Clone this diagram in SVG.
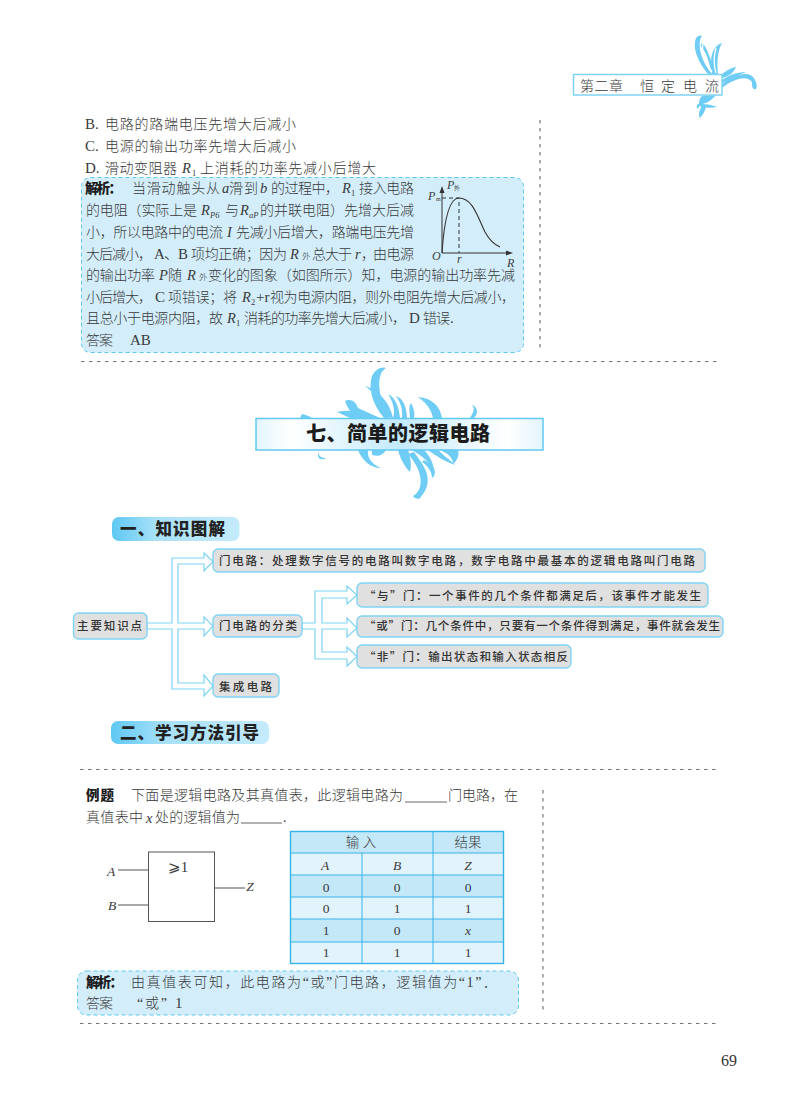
<svg xmlns="http://www.w3.org/2000/svg" width="800" height="1120" viewBox="0 0 800 1120">
<style>
text{font-family:"Liberation Serif","Noto Sans CJK SC",serif;fill:#3a3a3a}
.b{font-size:14px;font-weight:300}
.l{font-size:15px}
.i{font-size:14.5px;font-style:italic}
.s{font-size:8.5px}
.si{font-size:8.5px;font-style:italic}
.h{font-family:"Noto Sans CJK SC",sans-serif;font-size:13.5px;font-weight:900;fill:#1c1c1c}
.k{font-family:"Noto Sans CJK SC",sans-serif;font-size:11.5px;font-weight:500;fill:#333}
.n{fill:#e0e0e0;stroke:#7fd3f3;stroke-width:1.4}
.sec{font-family:"Noto Sans CJK SC",sans-serif;font-size:16.5px;font-weight:900;fill:#222}
.a{fill:#d3eefa;stroke:#5cc8f2;stroke-width:1;stroke-dasharray:4 3}
.d{fill:none;stroke:#777;stroke-width:1.2;stroke-dasharray:3.5 4.5}
.c{fill:#fff;stroke:#7fd3f3;stroke-width:1.2;stroke-linejoin:miter}
.o{fill:#6fcdf5}
.w{fill:none;stroke:#fff;stroke-width:1.3}
.t{font-size:13.5px;font-weight:300;text-anchor:middle}
.ti{font-size:13.5px;text-anchor:middle;font-style:italic}
.g{fill:none;stroke:#555;stroke-width:1}
.tl{stroke:#36b4ea;stroke-width:1;fill:none}
</style>
<defs>
<linearGradient id="tg" x1="0" x2="1" y1="0" y2="0"><stop offset="0" stop-color="#e3f5fd"/><stop offset=".12" stop-color="#fff"/><stop offset=".5" stop-color="#c3eafb"/><stop offset=".88" stop-color="#fff"/><stop offset="1" stop-color="#e3f5fd"/></linearGradient>
<linearGradient id="sg" x1="0" x2="1" y1="0" y2="0"><stop offset="0" stop-color="#5fc8f3"/><stop offset=".35" stop-color="#a9e1f8"/><stop offset="1" stop-color="#c4ebfb"/></linearGradient>
</defs>

<g id="running-head">
<g id="head-ornament">
<path class="o" d="M708 74C698 62 692 48 696 38C698 35 701 35 702 36C697 42 700 60 712 74Z"/>
<path class="o" d="M705 52C700 46 700 44 702 43C706 46 709 54 716 74L712 74C710 66 708 58 705 52Z"/>
<path class="o" d="M714 74C708 60 712 46 722 43C717 52 717 64 718 74Z"/>
<path class="o" d="M722 74C728 70 730 68 736 67C734 72 730 76 722 78Z"/>
<path class="o" d="M722 84C732 76 745 71 752 76C756 80 758 86 756 89C752 90 752 86 752 82C746 74 732 80 722 88Z"/>
<path class="o" d="M722 80C730 74 740 72 746 72C738 75 730 80 722 83Z"/>
<path class="o" d="M702 96L716 95C712 100 705 105 699 104C699 100 700 98 702 96Z"/>
<path class="o" d="M700 104C708 104 712 105 717 107C710 108 704 108 699 106Z"/>
<path class="o" d="M706 106C706 110 702 116 700 118C698 116 699 110 702 106Z"/>
<path class="o" d="M698 104C696 106 696 108 699 109C698 107 699 106 701 104Z"/>
<path class="w" d="M703 40C701 52 706 64 712 72M716 48C713 58 714 66 716 73"/>
</g>
<rect x="573.500" y="74.500" width="148.500" height="20.500" fill="#fff" stroke="#7fd3f3" stroke-width="1.500"/>
<text class="b"><tspan x="580" y="91" textLength="43">第二章</tspan><tspan x="640" y="91">恒</tspan><tspan x="661" y="91">定</tspan><tspan x="683" y="91">电</tspan><tspan x="705" y="91">流</tspan></text>
</g>

<g id="guides">
<path class="d" d="M540 120V349"/>
<path class="d" d="M81 361.500H718"/>
<path class="d" d="M80 769.500H718"/>
<path class="d" d="M543 790V1010"/>
<path class="d" d="M80 1023.500H718"/>
</g>

<g id="options">
<text class="b"><tspan class="l" x="85" y="129">B.</tspan><tspan x="105" y="129" textLength="191">电路的路端电压先增大后减小</tspan></text>
<text class="b"><tspan class="l" x="85" y="151">C.</tspan><tspan x="105" y="151" textLength="191">电源的输出功率先增大后减小</tspan></text>
<text class="b"><tspan class="l" x="85" y="173">D.</tspan><tspan x="105" y="173" textLength="72">滑动变阻器</tspan><tspan class="i" x="182" y="173">R</tspan><tspan class="s" x="192" y="176">1</tspan><tspan x="200" y="173" textLength="176">上消耗的功率先减小后增大</tspan></text>
</g>

<g id="analysis-1">
<rect class="a" x="81.500" y="177.500" width="442" height="175" rx="9"/>
<text class="h" x="85" y="193" textLength="37">解析：</text>
<text class="b"><tspan x="132" y="193" textLength="88">当滑动触头从</tspan><tspan class="i" x="222" y="193">a</tspan><tspan x="229" y="193" textLength="29">滑到</tspan><tspan class="i" x="260" y="193">b</tspan><tspan x="271" y="193" textLength="68">的过程中，</tspan><tspan class="i" x="342" y="193">R</tspan><tspan class="s" x="351" y="196">1</tspan><tspan x="359" y="193" textLength="55">接入电路</tspan></text>
<text class="b"><tspan x="86" y="215" textLength="111">的电阻（实际上是</tspan><tspan class="i" x="201" y="215">R</tspan><tspan class="si" x="210" y="218">P6</tspan><tspan x="225" y="215">与</tspan><tspan class="i" x="240" y="215">R</tspan><tspan class="si" x="249" y="218">aP</tspan><tspan x="260" y="215" textLength="154">的并联电阻）先增大后减</tspan></text>
<text class="b"><tspan x="86" y="237" textLength="137">小，所以电路中的电流</tspan><tspan class="i" x="227" y="237">I</tspan><tspan x="236" y="237" textLength="178">先减小后增大，路端电压先增</tspan></text>
<text class="b"><tspan x="86" y="259" textLength="66">大后减小，</tspan><tspan class="l" x="154" y="259" textLength="34">A、B</tspan><tspan x="191" y="259" textLength="96">项均正确；因为</tspan><tspan class="i" x="290" y="259">R</tspan><tspan class="s" x="302" y="259">外</tspan><tspan x="312" y="259" textLength="40">总大于</tspan><tspan class="i" x="355" y="259">r</tspan><tspan x="361" y="259">，</tspan><tspan x="373" y="259" textLength="41">由电源</tspan></text>
<text class="b"><tspan x="86" y="280" textLength="69">的输出功率</tspan><tspan class="i" x="159" y="280">P</tspan><tspan x="168" y="280">随</tspan><tspan class="i" x="187" y="280">R</tspan><tspan class="s" x="199" y="280">外</tspan><tspan x="208" y="280" textLength="307">变化的图象（如图所示）知，电源的输出功率先减</tspan></text>
<text class="b"><tspan x="86" y="302" textLength="66">小后增大，</tspan><tspan class="l" x="155" y="302">C</tspan><tspan x="168" y="302" textLength="69">项错误；将</tspan><tspan class="i" x="242" y="302">R</tspan><tspan class="s" x="251" y="305">2</tspan><tspan class="l" x="256" y="302">+r</tspan><tspan x="270" y="302" textLength="245">视为电源内阻，则外电阻先增大后减小，</tspan></text>
<text class="b"><tspan x="86" y="323" textLength="137">且总小于电源内阻，故</tspan><tspan class="i" x="227" y="323">R</tspan><tspan class="s" x="236" y="326">1</tspan><tspan x="244" y="323" textLength="162">消耗的功率先增大后减小，</tspan><tspan class="l" x="409" y="323">D</tspan><tspan x="423" y="323" textLength="27">错误</tspan><tspan class="l" x="450" y="323">.</tspan></text>
<text class="b"><tspan x="86" y="345" textLength="27">答案</tspan><tspan class="l" x="130" y="345">AB</tspan></text>
<g id="power-curve">
<path d="M442 253V190M442 253H509" fill="none" stroke="#333" stroke-width="1"/>
<path d="M442 186l-2.500 7h5zM513 253l-7-2.500v5z" fill="#333"/>
<path d="M442 253C444 222 449 198 459 198C473 198 478 218 485 232C490 241 495 245 500 247" fill="none" stroke="#333" stroke-width="1.100"/>
<path d="M442 198H459V253" fill="none" stroke="#333" stroke-width="1" stroke-dasharray="4 3"/>
<text class="i" style="font-size:12px"><tspan x="447" y="189">P</tspan><tspan x="428" y="200">P</tspan><tspan x="432" y="260">O</tspan><tspan x="457" y="263">r</tspan><tspan x="507" y="267">R</tspan></text>
<text class="s" style="font-size:6px"><tspan x="454" y="190">外</tspan><tspan x="436" y="201">m</tspan></text>
</g>
</g>

<g id="title-block">
<g id="title-ornament">
<path class="o" d="M384 418C372 404 368 388 372 376C375 369 382 366 386 368C378 372 375 390 389 418Z"/>
<path class="o" d="M386 417C384 404 378 396 365 386C378 390 390 402 393 418Z"/>
<path class="o" d="M345 401C351 398 356 402 358 408L380 418L352 418C353 413 347 408 345 401Z"/>
<path class="o" d="M337 412C350 409 366 412 378 418L350 418Z"/>
<path class="o" d="M393 418C396 410 392 400 388 394C396 398 399 408 400 418Z"/>
<path class="o" d="M402 418C403 408 400 402 396 396C404 398 407 410 407 418Z"/>
<path class="o" d="M410 418C410 412 408 408 411 403C414 408 415 414 414 418Z"/>
<path class="o" d="M418 397C432 398 440 406 442 418L433 418C431 408 425 402 418 397Z"/>
<path class="o" d="M470 418C474 412 475 408 472 405C476 406 480 412 474 418Z"/>
<path class="o" d="M302 414C306 415 310 416 312 418L300 418Z"/>
<path class="o" d="M318 450C318 455 320 458 326 458C324 460 318 460 318 456Z"/>
<path class="o" d="M358 450L368 450C367 458 372 464 381 468C370 468 362 460 358 450Z"/>
<path class="o" d="M372 450H386C383 455 379 457 372 455Z"/>
<path class="o" d="M398 450H408C410 456 412 464 410 472C404 466 400 458 398 450Z"/>
<path class="o" d="M412 450H424C430 456 434 464 434 472C430 462 422 456 412 450Z"/>
<path class="o" d="M428 450H438C442 454 450 460 455 465C446 462 436 456 428 450Z"/>
<path class="o" d="M440 450H458C460 456 456 462 453 464C453 458 449 454 440 450Z"/>
<path class="o" d="M414 452C424 466 436 480 420 498C418 500 414 498 413 496C424 490 424 472 408 454Z"/>
<path class="o" d="M424 460C438 466 436 476 432 478C432 472 428 466 422 462Z"/>
</g>
<rect x="256" y="418.500" width="287" height="31.500" fill="url(#tg)" stroke="#62c9f3" stroke-width="1.500"/>
<text class="h" x="306" y="441" textLength="184" style="font-size:20px">七、简单的逻辑电路</text>
</g>

<g id="section-1">
<rect x="112" y="517" width="127.500" height="24" rx="7" fill="url(#sg)"/>
<text class="sec" x="120" y="535" textLength="105">一、知识图解</text>
</g>

<g id="connectors">
<path class="c" d="M147 623H172V558H204V553L213 561.500L204 571V564H178V623H204V617L213 626L204 636V629H178V683H204V675L213 686L204 696V689H172V629H147Z"/>
<path class="c" d="M302 623H315V591H347V586L357 595L347 604V598H322V623H347V618L357 628L347 637V629H322V652H347V647L357 656.500L347 666V659H315V629H302Z"/>
</g>

<g id="n-main"><rect class="n" x="73.500" y="613" width="73.500" height="26" rx="5"/><text class="k" x="77" y="630" textLength="65">主要知识点</text></g>
<g id="n-gate"><rect class="n" x="213" y="549" width="492" height="23" rx="5"/><text class="k" x="219" y="565" textLength="476">门电路：处理数字信号的电路叫数字电路，数字电路中最基本的逻辑电路叫门电路</text></g>
<g id="n-class"><rect class="n" x="213" y="615" width="89" height="22" rx="5"/><text class="k" x="219" y="630" textLength="78">门电路的分类</text></g>
<g id="n-ic"><rect class="n" x="213" y="674" width="66" height="23" rx="5"/><text class="k" x="219" y="691" textLength="53">集成电路</text></g>
<g id="n-and"><rect class="n" x="357" y="583" width="351" height="24" rx="5"/><text class="k" x="364" y="600" textLength="337">“与”门：一个事件的几个条件都满足后，该事件才能发生</text></g>
<g id="n-or"><rect class="n" x="357" y="616" width="366" height="21" rx="5"/><text class="k" x="364" y="630" textLength="356">“或”门：几个条件中，只要有一个条件得到满足，事件就会发生</text></g>
<g id="n-not"><rect class="n" x="357" y="645" width="214" height="23" rx="5"/><text class="k" x="364" y="661" textLength="204">“非”门：输出状态和输入状态相反</text></g>

<g id="section-2">
<rect x="111" y="721" width="158" height="23" rx="7" fill="url(#sg)"/>
<text class="sec" x="120" y="739" textLength="139">二、学习方法引导</text>
</g>

<g id="example">
<text class="h" x="86" y="800" textLength="28">例题</text>
<text class="b"><tspan x="131" y="800" textLength="272">下面是逻辑电路及其真值表，此逻辑电路为</tspan><tspan x="448" y="800" textLength="70">门电路，在</tspan></text>
<path d="M405 802H447M241 823H282" stroke="#666" stroke-width="1" fill="none"/>
<text class="b"><tspan x="86" y="822" textLength="57">真值表中</tspan><tspan class="i" x="146" y="823">x</tspan><tspan x="155" y="822" textLength="85">处的逻辑值为</tspan><tspan x="283" y="822">.</tspan></text>
</g>

<g id="or-gate">
<rect class="g" x="148.500" y="852" width="66" height="69.500"/>
<path class="g" d="M118 870H148M118 905H148M215 888H245"/>
<text class="ti" x="111" y="876">A</text><text class="ti" x="112" y="910">B</text><text class="ti" x="250" y="891">Z</text>
<text class="t" x="178" y="872" style="font-size:15px">⩾1</text>
</g>

<g id="truth-table">
<rect x="290" y="831" width="213" height="22" fill="#c5e8f8"/>
<rect x="290" y="853" width="213" height="22" fill="#e3f3fb"/>
<rect x="290" y="875" width="213" height="22" fill="#c5e8f8"/>
<rect x="290" y="897" width="213" height="22" fill="#e3f3fb"/>
<rect x="290" y="919" width="213" height="23" fill="#c5e8f8"/>
<rect x="290" y="942" width="213" height="21" fill="#e3f3fb"/>
<path class="tl" d="M290 853H503M290 875H503M290 897H503M290 919H503M290 942H503M362 853V963M433 831V963"/>
<rect x="290.500" y="831.500" width="213" height="132" fill="none" stroke="#36b4ea" stroke-width="1.400"/>
<text class="t"><tspan x="361" y="847">输 入</tspan><tspan x="468" y="847">结果</tspan></text>
<text class="ti"><tspan x="325" y="870">A</tspan><tspan x="397" y="870">B</tspan><tspan x="468" y="870">Z</tspan></text>
<text class="t"><tspan x="326" y="892">0</tspan><tspan x="397" y="892">0</tspan><tspan x="468" y="892">0</tspan></text>
<text class="t"><tspan x="326" y="913">0</tspan><tspan x="397" y="913">1</tspan><tspan x="468" y="913">1</tspan></text>
<text class="t"><tspan x="326" y="935">1</tspan><tspan x="397" y="935">0</tspan></text><text class="ti" x="468" y="935">x</text>
<text class="t"><tspan x="326" y="957">1</tspan><tspan x="397" y="957">1</tspan><tspan x="468" y="957">1</tspan></text>
</g>

<g id="analysis-2">
<rect class="a" x="77.500" y="971" width="441" height="44" rx="9"/>
<text class="h" x="86" y="987" textLength="37">解析：</text>
<text class="b"><tspan x="131" y="987" textLength="366">由真值表可知，此电路为“或”门电路，逻辑值为“1”．</tspan></text>
<text class="b"><tspan x="86" y="1008" textLength="27">答案</tspan><tspan x="137" y="1008" textLength="30">“或”</tspan><tspan class="l" x="175" y="1008">1</tspan></text>
</g>

<text id="page-number" x="721" y="1066" style="font-size:16px;fill:#333">69</text>
</svg>
